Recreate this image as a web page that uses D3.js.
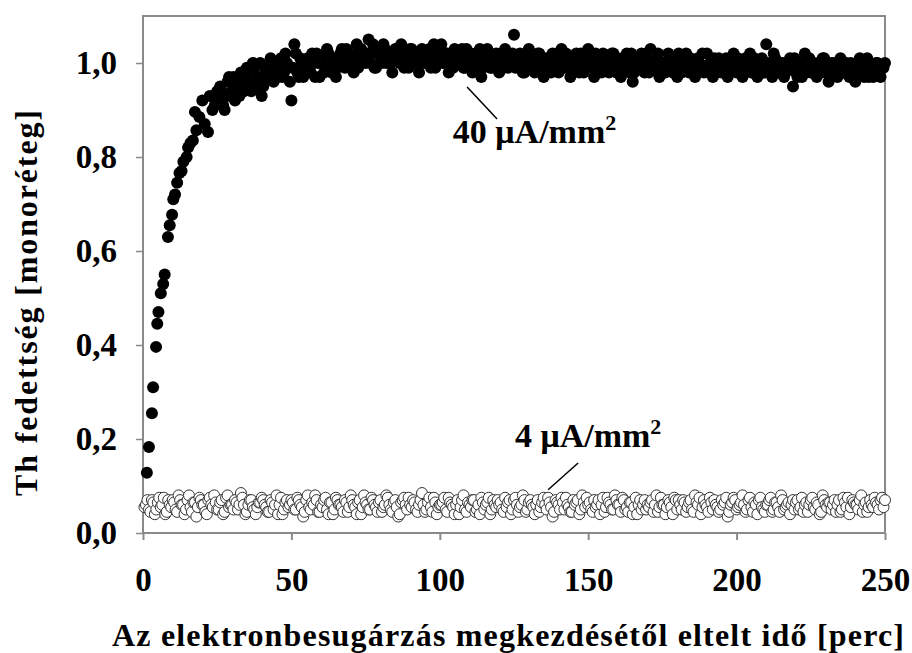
<!DOCTYPE html>
<html>
<head>
<meta charset="utf-8">
<script src="https://cdn.jsdelivr.net/npm/d3@7"></script>
<style>
  body { margin: 0; background: #fff; }
</style>
</head>
<body>
<div id="chart-area"></div>
<script>
// 40 uA/mm2 - the fast rise at the start
var riseTime = [1.3, 2.0, 3.0, 3.4, 4.4, 4.8, 5.2, 6.0, 6.8, 7.3, 8.4, 9.0, 9.8, 10.2, 10.8, 11.5, 12.3, 13.0, 13.6,
                14.7, 15.2, 16.0, 16.8, 17.5, 18.0, 19.0, 20.0, 20.8, 21.9, 22.5, 23.4, 24.2, 25.0];
var riseCov = [0.128, 0.183, 0.255, 0.31, 0.396, 0.445, 0.47, 0.51, 0.53, 0.55, 0.63, 0.655, 0.677, 0.71, 0.72, 0.745, 0.766, 0.77, 0.79,
               0.80, 0.82, 0.83, 0.835, 0.896, 0.857, 0.885, 0.92, 0.87, 0.853, 0.93, 0.90, 0.91, 0.94];

// readings on the whole minutes
var minutes = [1,2,3,4,5,6,7,8,9,10,11,12,13,14,15,16,17,18,19,20,21,22,23,24,25,
  26,27,28,29,30,31,32,33,34,35,36,37,38,39,40,41,42,43,44,45,46,47,48,49,50,
  51,52,53,54,55,56,57,58,59,60,61,62,63,64,65,66,67,68,69,70,71,72,73,74,75,
  76,77,78,79,80,81,82,83,84,85,86,87,88,89,90,91,92,93,94,95,96,97,98,99,100,
  101,102,103,104,105,106,107,108,109,110,111,112,113,114,115,116,117,118,119,120,121,122,123,124,125,
  126,127,128,129,130,131,132,133,134,135,136,137,138,139,140,141,142,143,144,145,146,147,148,149,150,
  151,152,153,154,155,156,157,158,159,160,161,162,163,164,165,166,167,168,169,170,171,172,173,174,175,
  176,177,178,179,180,181,182,183,184,185,186,187,188,189,190,191,192,193,194,195,196,197,198,199,200,
  201,202,203,204,205,206,207,208,209,210,211,212,213,214,215,216,217,218,219,220,221,222,223,224,225,
  226,227,228,229,230,231,232,233,234,235,236,237,238,239,240,241,242,243,244,245,246,247,248,249,250];

// readings on the half minutes
var halfMinutes = [0.5,1.5,2.5,3.5,4.5,5.5,6.5,7.5,8.5,9.5,10.5,11.5,12.5,13.5,14.5,15.5,16.5,17.5,18.5,19.5,20.5,21.5,22.5,23.5,24.5,
  25.5,26.5,27.5,28.5,29.5,30.5,31.5,32.5,33.5,34.5,35.5,36.5,37.5,38.5,39.5,40.5,41.5,42.5,43.5,44.5,45.5,46.5,47.5,48.5,49.5,
  50.5,51.5,52.5,53.5,54.5,55.5,56.5,57.5,58.5,59.5,60.5,61.5,62.5,63.5,64.5,65.5,66.5,67.5,68.5,69.5,70.5,71.5,72.5,73.5,74.5,
  75.5,76.5,77.5,78.5,79.5,80.5,81.5,82.5,83.5,84.5,85.5,86.5,87.5,88.5,89.5,90.5,91.5,92.5,93.5,94.5,95.5,96.5,97.5,98.5,99.5,
  100.5,101.5,102.5,103.5,104.5,105.5,106.5,107.5,108.5,109.5,110.5,111.5,112.5,113.5,114.5,115.5,116.5,117.5,118.5,119.5,120.5,121.5,122.5,123.5,124.5,
  125.5,126.5,127.5,128.5,129.5,130.5,131.5,132.5,133.5,134.5,135.5,136.5,137.5,138.5,139.5,140.5,141.5,142.5,143.5,144.5,145.5,146.5,147.5,148.5,149.5,
  150.5,151.5,152.5,153.5,154.5,155.5,156.5,157.5,158.5,159.5,160.5,161.5,162.5,163.5,164.5,165.5,166.5,167.5,168.5,169.5,170.5,171.5,172.5,173.5,174.5,
  175.5,176.5,177.5,178.5,179.5,180.5,181.5,182.5,183.5,184.5,185.5,186.5,187.5,188.5,189.5,190.5,191.5,192.5,193.5,194.5,195.5,196.5,197.5,198.5,199.5,
  200.5,201.5,202.5,203.5,204.5,205.5,206.5,207.5,208.5,209.5,210.5,211.5,212.5,213.5,214.5,215.5,216.5,217.5,218.5,219.5,220.5,221.5,222.5,223.5,224.5,
  225.5,226.5,227.5,228.5,229.5,230.5,231.5,232.5,233.5,234.5,235.5,236.5,237.5,238.5,239.5,240.5,241.5,242.5,243.5,244.5,245.5,246.5,247.5,248.5,249.5];

// 40 uA/mm2 - plateau, whole minutes 26..250
var plateauCov = [
  0.95,0.91,0.93,0.97,0.94,0.92,0.96,0.98,0.94,0.99,
  0.96,1.00,0.95,0.97,0.93,0.99,0.97,1.01,0.96,0.98,
  1.00,0.97,1.02,0.99,0.92,1.04,0.98,1.01,0.97,1.00,
  0.99,1.02,0.97,1.00,1.01,0.98,1.03,0.99,1.00,0.97,
  1.01,1.03,0.99,1.02,1.00,0.98,1.04,1.01,1.02,1.00,
  1.05,1.02,0.99,1.03,1.01,1.04,1.00,1.02,0.98,1.03,
  1.01,1.04,0.99,1.02,1.03,1.00,1.01,0.98,1.03,1.00,
  1.02,0.99,1.04,1.01,1.03,1.00,1.02,0.98,1.01,1.03,
  1.00,1.02,0.99,1.03,1.01,0.98,1.02,1.00,0.97,1.01,
  1.03,0.99,1.01,1.02,0.98,1.00,1.03,0.99,1.01,1.06,
  1.00,1.02,0.98,1.01,1.03,0.99,0.98,1.02,1.00,0.97,
  1.01,0.99,1.02,1.00,0.98,1.03,0.99,1.01,0.97,1.00,
  1.02,0.98,1.01,0.99,1.03,1.00,0.97,1.01,0.99,1.02,
  1.00,0.98,1.02,0.99,1.01,0.97,1.00,1.02,0.98,0.96,
  1.01,0.99,1.02,0.98,1.00,1.03,0.99,1.01,0.97,1.00,
  0.98,1.02,0.99,1.00,0.97,1.01,0.99,1.02,0.98,1.00,
  0.97,1.01,0.99,0.98,1.02,1.00,0.97,0.99,1.01,0.98,
  1.00,0.97,0.99,1.02,0.98,1.00,0.97,1.01,0.99,0.98,
  1.01,0.97,1.00,0.98,1.04,0.99,0.97,1.01,0.98,1.00,
  0.97,0.99,1.01,0.95,0.98,1.00,0.97,1.02,0.99,0.98,
  1.00,0.97,0.99,1.01,0.98,0.96,1.00,0.98,0.97,1.01,
  0.98,1.00,0.97,0.99,0.96,1.00,0.98,0.97,1.01,0.98,
  0.97,1.00,0.98,0.99,1.00];

// 40 uA/mm2 - plateau, half minutes 25.5..249.5
var plateauCovHalf = [
  0.92,0.94,0.90,0.96,0.93,0.97,0.95,0.93,0.98,0.96,
  0.98,0.94,0.99,0.96,1.00,0.95,0.98,0.97,1.00,0.99,
  0.97,1.01,0.98,1.00,0.96,0.99,1.02,0.97,1.00,0.98,
  1.01,0.98,1.00,1.02,0.97,1.01,0.99,1.02,0.98,1.01,
  0.99,1.02,1.00,1.03,0.99,1.01,1.02,0.99,1.03,1.01,
  1.02,1.00,1.04,0.99,1.02,1.00,1.03,1.01,1.00,1.02,
  1.03,1.00,1.02,1.01,0.99,1.03,1.02,1.00,1.01,1.02,
  1.00,1.03,1.01,0.99,1.02,1.04,1.00,1.02,1.01,0.99,
  1.02,1.00,1.03,0.99,1.01,1.02,0.99,1.01,1.03,0.99,
  1.00,1.02,0.99,1.01,1.00,1.02,0.99,1.01,1.00,1.02,
  0.99,1.01,1.00,0.98,1.02,1.00,1.01,0.99,1.02,1.00,
  0.99,1.01,0.98,1.00,1.02,0.99,1.00,1.02,0.99,1.01,
  0.99,1.00,1.02,0.98,1.00,1.01,0.99,1.02,1.00,0.98,
  1.01,0.99,1.00,1.02,0.98,1.00,1.01,0.99,1.00,1.02,
  0.98,1.00,1.01,0.99,1.02,0.98,1.00,0.99,1.02,0.98,
  1.00,0.99,1.01,0.98,1.00,1.02,0.98,1.00,0.99,1.01,
  0.99,0.98,1.00,1.02,0.99,0.98,1.00,1.01,0.98,1.00,
  0.99,1.01,0.98,1.00,0.99,1.01,0.98,0.99,1.00,1.02,
  0.98,1.00,0.99,1.01,0.98,1.00,0.99,1.02,0.99,0.98,
  1.00,0.98,1.00,0.99,1.01,0.97,0.99,1.00,0.98,1.01,
  0.98,0.99,1.00,0.98,1.01,0.99,0.97,1.00,0.99,0.98,
  1.00,0.98,0.99,1.00,0.97,0.99,1.01,0.98,0.99,0.97,
  0.99,0.98,1.00,0.97,0.99];

// 4 uA/mm2 - whole minutes 1..250
var lowCov = [
  .06,.05,.07,.04,.065,.055,.075,.045,.06,.07,
  .05,.08,.06,.04,.07,.055,.065,.035,.075,.06,
  .045,.07,.06,.08,.05,.065,.04,.075,.055,.06,
  .07,.05,.085,.06,.045,.07,.055,.04,.065,.075,
  .06,.045,.07,.05,.08,.06,.04,.065,.055,.07,
  .05,.075,.06,.035,.07,.055,.065,.08,.045,.06,
  .07,.05,.065,.04,.075,.06,.055,.07,.045,.08,
  .06,.04,.07,.055,.065,.05,.075,.06,.045,.07,
  .055,.08,.06,.045,.07,.035,.065,.075,.05,.06,
  .07,.05,.06,.085,.045,.065,.055,.075,.04,.06,
  .065,.05,.075,.06,.04,.07,.055,.08,.045,.06,
  .07,.045,.06,.075,.05,.065,.04,.07,.055,.06,
  .05,.075,.065,.04,.07,.06,.055,.08,.045,.065,
  .06,.04,.07,.055,.075,.05,.065,.035,.07,.06,
  .075,.05,.06,.045,.07,.065,.04,.08,.055,.06,
  .05,.07,.06,.04,.075,.055,.065,.05,.08,.06,
  .045,.07,.055,.065,.04,.075,.06,.05,.07,.06,
  .065,.045,.08,.055,.06,.04,.07,.055,.075,.05,
  .06,.07,.045,.065,.05,.08,.06,.04,.07,.055,
  .075,.05,.06,.045,.07,.065,.035,.06,.075,.05,
  .06,.08,.045,.07,.055,.065,.04,.075,.05,.06,
  .07,.045,.065,.055,.08,.05,.06,.04,.07,.065,
  .05,.075,.06,.045,.07,.055,.065,.04,.08,.06,
  .065,.05,.07,.06,.045,.075,.055,.04,.07,.06,
  .05,.08,.06,.045,.07,.055,.065,.05,.075,.07];

// 4 uA/mm2 - half minutes 0.5..249.5
var lowCovHalf = [
  .055,.07,.045,.065,.05,.075,.06,.04,.07,.055,
  .065,.045,.07,.06,.05,.08,.045,.065,.055,.07,
  .06,.04,.075,.055,.065,.05,.07,.045,.08,.06,
  .05,.065,.06,.075,.04,.06,.07,.05,.055,.065,
  .07,.055,.045,.065,.06,.04,.075,.05,.07,.06,
  .065,.05,.07,.055,.045,.08,.05,.06,.07,.045,
  .055,.075,.04,.065,.05,.07,.06,.045,.065,.055,
  .07,.055,.065,.04,.08,.06,.05,.07,.055,.065,
  .045,.06,.075,.05,.065,.055,.04,.07,.06,.075,
  .055,.065,.045,.07,.06,.05,.075,.045,.065,.055,
  .06,.075,.045,.065,.055,.06,.04,.07,.05,.065,
  .055,.07,.05,.04,.065,.06,.075,.05,.06,.07,
  .065,.045,.055,.07,.05,.075,.045,.06,.07,.05,
  .07,.055,.06,.045,.065,.06,.075,.055,.045,.065,
  .05,.065,.075,.055,.045,.06,.07,.05,.065,.075,
  .065,.045,.055,.07,.06,.045,.075,.06,.05,.07,
  .06,.075,.05,.045,.065,.055,.04,.07,.06,.05,
  .055,.07,.06,.045,.075,.06,.055,.065,.04,.07,
  .07,.05,.065,.055,.07,.045,.065,.075,.055,.06,
  .045,.065,.07,.055,.05,.06,.075,.045,.065,.07,
  .055,.065,.06,.05,.075,.045,.06,.07,.055,.045,
  .06,.075,.05,.065,.045,.07,.055,.065,.06,.05,
  .07,.055,.045,.065,.06,.075,.05,.06,.045,.07,
  .055,.065,.06,.045,.07,.05,.065,.075,.055,.065,
  .06,.07,.045,.065,.055,.06,.075,.06,.07,.055];

var xTicks = [0, 50, 100, 150, 200, 250];
var yTicks = [0, 0.2, 0.4, 0.6, 0.8, 1.0];

// series labels: text position + leader line, in data units
var labelNames = ["40", "4"];
var labelPos = [[104.4, 0.83], [125.3, 0.183]];
var leaderFrom = [[109.2, 0.949], [146.6, 0.149]];
var leaderTo = [[119.3, 0.881], [136.5, 0.092]];

var FONT = "'Liberation Serif', 'Times New Roman', serif";

var margin = {left: 143, right: 27, top: 16, bottom: 120};
var width = 912 - margin.left - margin.right,
    height = 653 - margin.top - margin.bottom;

var svg = d3.select("#chart-area").append("svg")
    .attr("width", 912)
    .attr("height", 653);

var g = svg.append("g")
    .attr("transform", "translate(" + margin.left + "," + margin.top + ")");

var x = d3.scaleLinear().domain([0, 250]).range([0, width]);
var y = d3.scaleLinear().domain([0, 1.1]).range([height, 0]);

// build point lists
var fast = [];
for (var i = 0; i < riseTime.length; i++) fast.push({t: riseTime[i], c: riseCov[i]});
for (var i = 0; i < plateauCov.length; i++) fast.push({t: minutes[i + 25], c: plateauCov[i]});
for (var i = 0; i < plateauCovHalf.length; i++) fast.push({t: halfMinutes[i + 25], c: plateauCovHalf[i]});
fast.sort(function (a, b) { return a.t - b.t; });

var slow = [];
for (var i = 0; i < lowCov.length; i++) slow.push({t: minutes[i], c: lowCov[i]});
for (var i = 0; i < lowCovHalf.length; i++) slow.push({t: halfMinutes[i], c: lowCovHalf[i]});
slow.sort(function (a, b) { return a.t - b.t; });

var axisColor = "#8a8a8a";

function styleText(sel, size) {
    sel.style("font-family", FONT)
       .style("font-weight", "bold")
       .style("font-size", size + "px")
       .attr("fill", "#000");
}

// y axis
var yAxis = g.append("g")
    .call(d3.axisLeft(y).tickValues(yTicks).tickSize(7).tickPadding(19)
        .tickFormat(function (d) { return d3.format(".1f")(d).replace(".", ","); }));
yAxis.select(".domain").remove();
yAxis.selectAll("line").attr("stroke", axisColor).attr("stroke-width", 1.5);
styleText(yAxis.selectAll("text"), 33);

// x axis
var xAxis = g.append("g")
    .attr("transform", "translate(0," + height + ")")
    .call(d3.axisBottom(x).tickValues(xTicks).tickSize(7).tickPadding(28));
xAxis.select(".domain").remove();
xAxis.selectAll("line").attr("stroke", axisColor).attr("stroke-width", 2);
styleText(xAxis.selectAll("text"), 33);

// frame
g.append("rect")
    .attr("width", width)
    .attr("height", height)
    .attr("fill", "none")
    .attr("stroke", axisColor)
    .attr("stroke-width", 2);

// open circles first, filled on top
g.selectAll(".slow")
    .data(slow)
    .enter()
    .append("circle")
    .attr("class", "slow")
    .attr("cx", function (d) { return x(d.t); })
    .attr("cy", function (d) { return y(d.c); })
    .attr("r", 5.5)
    .attr("fill", "#fff")
    .attr("stroke", "#333")
    .attr("stroke-width", 1);

g.selectAll(".fast")
    .data(fast)
    .enter()
    .append("circle")
    .attr("class", "fast")
    .attr("cx", function (d) { return x(d.t); })
    .attr("cy", function (d) { return y(d.c); })
    .attr("r", 6)
    .attr("fill", "#000");

// series labels with leader lines
for (var k = 0; k < labelNames.length; k++) {
    g.append("line")
        .attr("x1", x(leaderFrom[k][0])).attr("y1", y(leaderFrom[k][1]))
        .attr("x2", x(leaderTo[k][0])).attr("y2", y(leaderTo[k][1]))
        .attr("stroke", "#000")
        .attr("stroke-width", 1.5);
    var t = g.append("text")
        .attr("x", x(labelPos[k][0]))
        .attr("y", y(labelPos[k][1]));
    styleText(t, 34);
    t.append("tspan").text(labelNames[k] + " \u03bcA/mm");
    t.append("tspan").style("font-size", "22px").attr("dy", "-13").text("2");
}

// axis titles
var xTitle = svg.append("text")
    .attr("x", 508)
    .attr("y", 646)
    .attr("text-anchor", "middle")
    .attr("textLength", 792)
    .attr("lengthAdjust", "spacing")
    .text("Az elektronbesugárzás megkezdésétől eltelt idő [perc]");
styleText(xTitle, 32);

var yTitle = svg.append("text")
    .attr("transform", "translate(37,303) rotate(-90)")
    .attr("text-anchor", "middle")
    .attr("textLength", 386)
    .attr("lengthAdjust", "spacing")
    .text("Th fedettség [monoréteg]");
styleText(yTitle, 32);
</script>
</body>
</html>
